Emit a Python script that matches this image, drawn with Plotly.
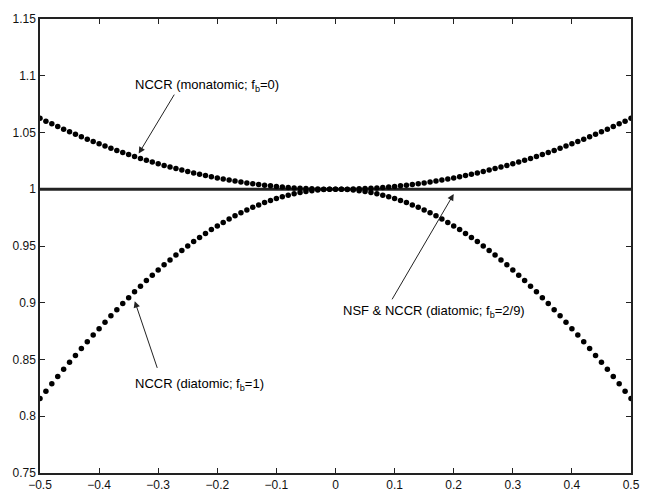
import plotly.graph_objects as go

x_vals = [-0.50, -0.49, -0.48, -0.47, -0.46, -0.45, -0.44, -0.43, -0.42, -0.41,
          -0.40, -0.39, -0.38, -0.37, -0.36, -0.35, -0.34, -0.33, -0.32, -0.31,
          -0.30, -0.29, -0.28, -0.27, -0.26, -0.25, -0.24, -0.23, -0.22, -0.21,
          -0.20, -0.19, -0.18, -0.17, -0.16, -0.15, -0.14, -0.13, -0.12, -0.11,
          -0.10, -0.09, -0.08, -0.07, -0.06, -0.05, -0.04, -0.03, -0.02, -0.01,
          0.00,
          0.01, 0.02, 0.03, 0.04, 0.05, 0.06, 0.07, 0.08, 0.09, 0.10,
          0.11, 0.12, 0.13, 0.14, 0.15, 0.16, 0.17, 0.18, 0.19, 0.20,
          0.21, 0.22, 0.23, 0.24, 0.25, 0.26, 0.27, 0.28, 0.29, 0.30,
          0.31, 0.32, 0.33, 0.34, 0.35, 0.36, 0.37, 0.38, 0.39, 0.40,
          0.41, 0.42, 0.43, 0.44, 0.45, 0.46, 0.47, 0.48, 0.49, 0.50]

nccr_monatomic = [1.0625, 1.0600, 1.0576, 1.0552, 1.0529, 1.0506, 1.0484, 1.0462, 1.0441, 1.0420,
                  1.0400, 1.0380, 1.0361, 1.0342, 1.0324, 1.0306, 1.0289, 1.0272, 1.0256, 1.0240,
                  1.0225, 1.0210, 1.0196, 1.0182, 1.0169, 1.0156, 1.0144, 1.0132, 1.0121, 1.0110,
                  1.0100, 1.0090, 1.0081, 1.0072, 1.0064, 1.0056, 1.0049, 1.0042, 1.0036, 1.0030,
                  1.0025, 1.0020, 1.0016, 1.0012, 1.0009, 1.0006, 1.0004, 1.0002, 1.0001, 1.0000,
                  1.0000,
                  1.0000, 1.0001, 1.0002, 1.0004, 1.0006, 1.0009, 1.0012, 1.0016, 1.0020, 1.0025,
                  1.0030, 1.0036, 1.0042, 1.0049, 1.0056, 1.0064, 1.0072, 1.0081, 1.0090, 1.0100,
                  1.0110, 1.0121, 1.0132, 1.0144, 1.0156, 1.0169, 1.0182, 1.0196, 1.0210, 1.0225,
                  1.0240, 1.0256, 1.0272, 1.0289, 1.0306, 1.0324, 1.0342, 1.0361, 1.0380, 1.0400,
                  1.0420, 1.0441, 1.0462, 1.0484, 1.0506, 1.0529, 1.0552, 1.0576, 1.0600, 1.0625]

nccr_diatomic_fb1 = [0.8156, 0.8221, 0.8286, 0.8350, 0.8413, 0.8475, 0.8536, 0.8597, 0.8656, 0.8715,
                     0.8772, 0.8829, 0.8885, 0.8939, 0.8993, 0.9045, 0.9096, 0.9146, 0.9195, 0.9242,
                     0.9289, 0.9334, 0.9377, 0.9420, 0.9461, 0.9500, 0.9539, 0.9575, 0.9611, 0.9645,
                     0.9677, 0.9708, 0.9738, 0.9766, 0.9792, 0.9817, 0.9841, 0.9862, 0.9883, 0.9901,
                     0.9918, 0.9934, 0.9948, 0.9960, 0.9971, 0.9980, 0.9987, 0.9993, 0.9997, 0.9999,
                     1.0000,
                     0.9999, 0.9997, 0.9993, 0.9987, 0.9980, 0.9971, 0.9960, 0.9948, 0.9934, 0.9918,
                     0.9901, 0.9883, 0.9862, 0.9841, 0.9817, 0.9792, 0.9766, 0.9738, 0.9708, 0.9677,
                     0.9645, 0.9611, 0.9575, 0.9539, 0.9500, 0.9461, 0.9420, 0.9377, 0.9334, 0.9289,
                     0.9242, 0.9195, 0.9146, 0.9096, 0.9045, 0.8993, 0.8939, 0.8885, 0.8829, 0.8772,
                     0.8715, 0.8656, 0.8597, 0.8536, 0.8475, 0.8413, 0.8350, 0.8286, 0.8221, 0.8156]

nsf_x = [-0.5, 0.5]
nsf_values = [1.0, 1.0]

x_tickvals = [-0.5, -0.4, -0.3, -0.2, -0.1, 0, 0.1, 0.2, 0.3, 0.4, 0.5]
x_ticktext = ["\u22120.5", "\u22120.4", "\u22120.3", "\u22120.2", "\u22120.1", "0",
              "0.1", "0.2", "0.3", "0.4", "0.5"]
y_tickvals = [0.75, 0.8, 0.85, 0.9, 0.95, 1.0, 1.05, 1.1, 1.15]
y_ticktext = ["0.75", "0.8", "0.85", "0.9", "0.95", "1", "1.05", "1.1", "1.15"]

FONT = "Liberation Sans, Arial, Helvetica, sans-serif"

fig = go.Figure()
fig.add_trace(go.Scatter(x=nsf_x, y=nsf_values, mode="lines",
                         line=dict(color="#222222", width=3), showlegend=False))
fig.add_trace(go.Scatter(x=x_vals, y=nccr_monatomic, mode="markers",
                         marker=dict(color="black", size=5.5), showlegend=False))
fig.add_trace(go.Scatter(x=x_vals, y=nccr_diatomic_fb1, mode="markers",
                         marker=dict(color="black", size=5.5), showlegend=False))

# text labels
labels = [
    ("NCCR (monatomic; f<sub>b</sub>=0)", -0.343, 1.0918),
    ("NCCR (diatomic; f<sub>b</sub>=1)", -0.343, 0.828),
    ("NSF &amp; NCCR (diatomic; f<sub>b</sub>=2/9)", 0.01, 0.8924),
]
for txt, lx, ly in labels:
    fig.add_annotation(x=lx, y=ly, xref="x", yref="y", text=txt, showarrow=False,
                       xanchor="left", yanchor="middle",
                       font=dict(family=FONT, size=13, color="black"))

# arrows (tip, tail)
arrows = [
    (-0.333, 1.0314, -0.2713, 1.0847),
    (-0.3397, 0.9014, -0.3008, 0.8413),
    (0.2, 0.9958, 0.0943, 0.9017),
]
for tx, ty, ax_, ay_ in arrows:
    fig.add_annotation(x=tx, y=ty, xref="x", yref="y", ax=ax_, ay=ay_,
                       axref="x", ayref="y", text="", showarrow=True,
                       arrowhead=2, arrowsize=1.3, arrowwidth=1, arrowcolor="#222222")

axis_common = dict(showgrid=False, zeroline=False, showline=True, linecolor="#222222",
                   linewidth=1.5, mirror="ticks", ticks="inside", ticklen=5,
                   tickcolor="#222222", tickwidth=1,
                   tickfont=dict(family=FONT, size=12, color="#111111"))

fig.update_xaxes(range=[-0.5, 0.5], tickvals=x_tickvals, ticktext=x_ticktext, **axis_common)
fig.update_yaxes(range=[0.75, 1.15], tickvals=y_tickvals, ticktext=y_ticktext, **axis_common)

fig.update_layout(width=652, height=504, margin=dict(l=39, r=14, t=14, b=18),
                  paper_bgcolor="white", plot_bgcolor="white",
                  font=dict(family=FONT, size=12, color="black"))

fig.write_html("out.html")
